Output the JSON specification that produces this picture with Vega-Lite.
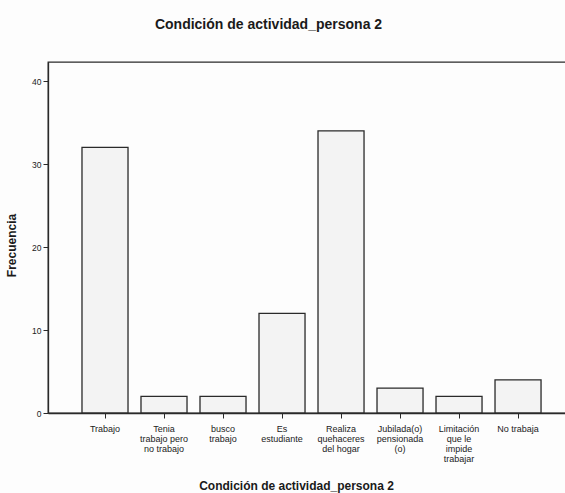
{
  "$schema": "https://vega.github.io/schema/vega-lite/v6.json",
  "width": 519,
  "height": 351,
  "autosize": {"type": "none"},
  "padding": {"left": 48, "top": 62, "right": 0, "bottom": 80},
  "background": "#fdfdfd",
  "title": {
    "text": "Condición de actividad_persona 2",
    "font": "Liberation Sans",
    "fontSize": 14,
    "fontWeight": "bold",
    "color": "#1a1a1a",
    "offset": 30,
    "dx": -39
  },
  "config": {
    "view": {"stroke": "#2a2a2a", "strokeWidth": 1.3},
    "axis": {
      "labelFont": "Liberation Sans",
      "titleFont": "Liberation Sans",
      "domainColor": "#2a2a2a",
      "domainWidth": 1.3,
      "tickColor": "#2a2a2a",
      "labelColor": "#222222",
      "titleColor": "#1a1a1a"
    }
  },
  "data": {
    "values": [
      {"cat": "Trabajo", "freq": 32},
      {"cat": "Tenia trabajo pero no trabajo", "freq": 2},
      {"cat": "busco trabajo", "freq": 2},
      {"cat": "Es estudiante", "freq": 12},
      {"cat": "Realiza quehaceres del hogar", "freq": 34},
      {"cat": "Jubilada(o) pensionada (o)", "freq": 3},
      {"cat": "Limitación que le impide trabajar", "freq": 2},
      {"cat": "No trabaja", "freq": 4}
    ]
  },
  "mark": {"type": "bar", "fill": "#f3f3f3", "stroke": "#2a2a2a", "strokeWidth": 1.3},
  "encoding": {
    "x": {
      "field": "cat",
      "type": "nominal",
      "sort": null,
      "scale": {"paddingInner": 0.22, "paddingOuter": 0.508, "align": 0.567},
      "axis": {
        "title": "Condición de actividad_persona 2",
        "titleFontSize": 12,
        "titleFontWeight": "bold",
        "titleX": 248,
        "titleY": 72,
        "titleBaseline": "middle",
        "labelAngle": 0,
        "labelFontSize": 9,
        "labelLineHeight": 10,
        "labelPadding": 6,
        "tickSize": 5,
        "labelExpr": "split(indexof(datum.value,'Tenia')==0 ? 'Tenia|trabajo pero|no trabajo' : indexof(datum.value,'busco')==0 ? 'busco|trabajo' : indexof(datum.value,'Es ')==0 ? 'Es|estudiante' : indexof(datum.value,'Realiza')==0 ? 'Realiza|quehaceres|del hogar' : indexof(datum.value,'Jubilada')==0 ? 'Jubilada(o)|pensionada|(o)' : indexof(datum.value,'Limitación')==0 ? 'Limitación|que le|impide|trabajar' : datum.value, '|')"
      }
    },
    "y": {
      "field": "freq",
      "type": "quantitative",
      "scale": {"domain": [0, 42.3], "nice": false},
      "axis": {
        "title": "Frecuencia",
        "titleFontSize": 12,
        "titleFontWeight": "bold",
        "titleX": -30,
        "titleY": 183,
        "values": [0, 10, 20, 30, 40],
        "grid": false,
        "labelFontSize": 8.5,
        "tickSize": 5,
        "labelPadding": 2
      }
    }
  }
}
